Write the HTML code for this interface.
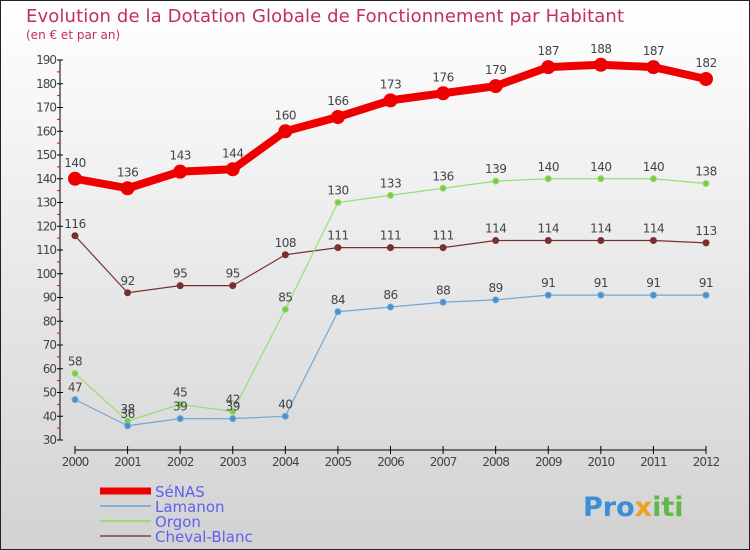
<!DOCTYPE html>
<html><head><meta charset="utf-8"><style>
body{margin:0;}
#c{width:750px;height:550px;position:relative;overflow:hidden;font-family:"DejaVu Sans","Liberation Sans",sans-serif;}
svg{display:block}
</style></head><body>
<div id="c">
<svg id="s" width="750" height="550" xmlns="http://www.w3.org/2000/svg">
<defs><linearGradient id="bg" x1="0" y1="0" x2="0" y2="1"><stop offset="0" stop-color="#ffffff"/><stop offset="1" stop-color="#d2d2d2"/></linearGradient></defs>
<rect x="0.5" y="0.5" width="749" height="549" fill="url(#bg)" stroke="#222"/>
<text x="26" y="22" font-size="18" fill="#c0305a" textLength="598">Evolution de la Dotation Globale de Fonctionnement par Habitant</text>
<text x="26" y="39" font-size="12" fill="#c0305a">(en € et par an)</text>
<g id="axes"></g><g id="series"></g><g id="legend"></g>
<text x="583" y="516" font-size="27" font-weight="bold" fill="#3a8fd8">Pro<tspan fill="#f0a020">x</tspan><tspan fill="#5fb848">iti</tspan></text>
</svg></div>
<script>
const years=[2000,2001,2002,2003,2004,2005,2006,2007,2008,2009,2010,2011,2012];
const yTicks=[30,40,50,60,70,80,90,100,110,120,130,140,150,160,170,180,190];
const senas=[140,136,143,144,160,166,173,176,179,187,188,187,182];
const lamanon=[47,36,39,39,40,84,86,88,89,91,91,91,91];
const orgon=[58,38,45,42,85,130,133,136,139,140,140,140,138];
const cheval=[116,92,95,95,108,111,111,111,114,114,114,114,113];
const NS="http://www.w3.org/2000/svg";
function xs(i){return 75+i*(706-75)/(years.length-1);}
function ys(v){return 440-(v-30)*(380/160);}
function mk(tag,attrs,parent){const e=document.createElementNS(NS,tag);for(const k in attrs)e.setAttribute(k,attrs[k]);parent.appendChild(e);return e;}
const ax=document.getElementById('axes');
let l=mk('line',{x1:60,y1:ys(190),x2:60,y2:ys(30),stroke:'#000'},ax);


yTicks.forEach(v=>{
 mk('line',{x1:57,y1:ys(v),x2:63,y2:ys(v),stroke:'#000'},ax);
 if(v<190) mk('line',{x1:57,y1:ys(v+5),x2:60,y2:ys(v+5),stroke:'#e00'},ax);
 const t=mk('text',{x:56,y:ys(v)+4,'font-size':12,fill:'#444','text-anchor':'end','letter-spacing':'-1'},ax);
 t.textContent=v;
 
 
});
l=mk('line',{x1:xs(0),y1:450,x2:xs(12),y2:450,stroke:'#000'},ax);


years.forEach((y,i)=>{
 mk('line',{x1:xs(i),y1:446,x2:xs(i),y2:454,stroke:'#000'},ax);
 const t=mk('text',{x:xs(i),y:466,'font-size':12,fill:'#444','text-anchor':'middle','letter-spacing':'-1'},ax);
 t.textContent=y;
 
 
});
const sg=document.getElementById('series');
function draw(name,vals,color,dot,lw,r,lblDy){
 const g=mk('g',{},sg);
 
 
 mk('polyline',{points:vals.map((v,i)=>xs(i)+','+ys(v)).join(' '),fill:'none',stroke:color,'stroke-width':lw,'stroke-linejoin':'round'},g);
 vals.forEach((v,i)=>{
  const c=mk('circle',{cx:xs(i),cy:ys(v),r:r,fill:dot,stroke:color,'stroke-width':1},g);
  
  
  const t=mk('text',{x:xs(i),y:ys(v)-lblDy,'font-size':12,fill:'#444','text-anchor':'middle','letter-spacing':'-0.5'},g);
  t.textContent=v;
  
  
 });
}
draw('cheval-blanc',cheval,'#7a3030','#7a3030',1.2,3,8);
draw('orgon',orgon,'#99dd77','#77cc44',1.2,3,8);
draw('lamanon',lamanon,'#6fa8d8','#4a90d0',1.2,3,8);
draw('senas',senas,'#ee0000','#ee0000',8,6.5,12);
const lg=document.getElementById('legend');
[['SéNAS','#ee0000',7],['Lamanon','#7fb0d8',2],['Orgon','#99dd77',2],['Cheval-Blanc','#996666',2]].forEach((d,i)=>{
 const y=491+i*15;
 const g=mk('g',{},lg);
 
 
 mk('line',{x1:100,y1:y,x2:151,y2:y,stroke:d[1],'stroke-width':d[2]},g);
 const t=mk('text',{x:155,y:y+6,'font-size':15,fill:'#6060f0'},g);
 t.textContent=d[0];
});
</script>
</body></html>
